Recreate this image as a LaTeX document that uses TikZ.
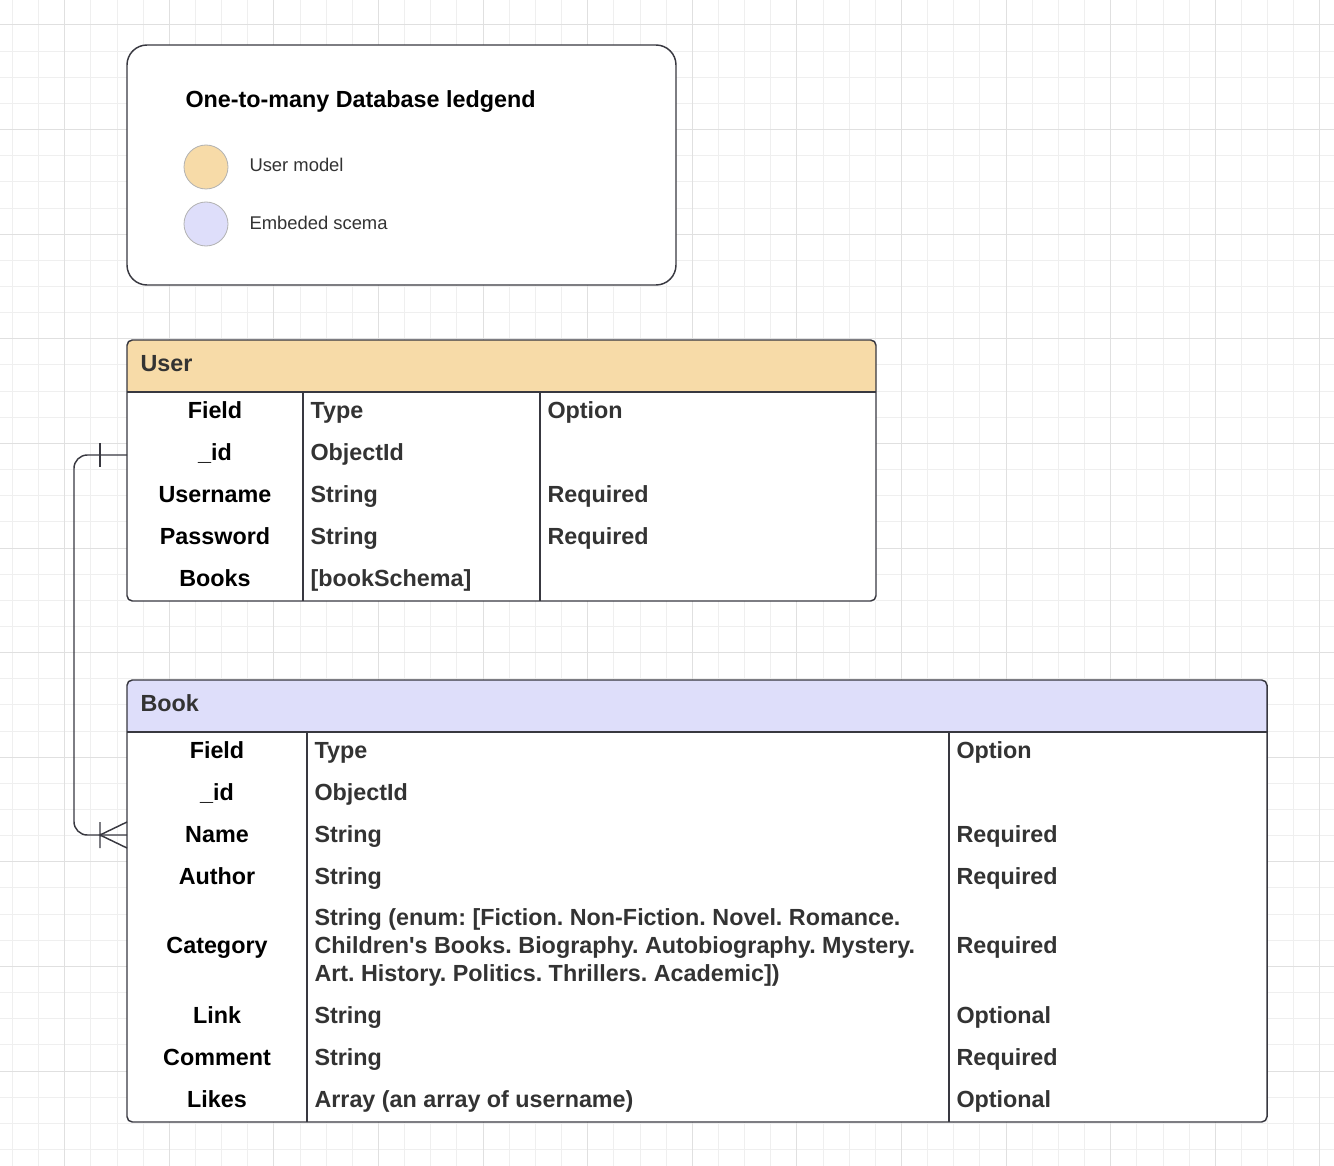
\documentclass[tikz,border=0pt]{standalone}
\usepackage{fontspec}
\setmainfont{Liberation Sans}
\frenchspacing

\definecolor{userfill}{RGB}{247,219,168}
\definecolor{bookfill}{RGB}{222,222,250}
\definecolor{inkgray}{RGB}{51,51,51}
\definecolor{linegray}{RGB}{56,56,64}
\definecolor{gridminor}{RGB}{239,239,239}
\definecolor{gridmajor}{RGB}{224,224,224}

\tikzset{every picture/.style={line width=0.75pt}}
\tikzset{
  cellhead/.style={font=\bfseries\fontsize{17.5}{21}\selectfont, text=black, anchor=base, inner sep=0pt},
  cellval/.style={font=\bfseries\fontsize{17.5}{21}\selectfont, text=inkgray, anchor=base west, inner sep=0pt},
  legendtxt/.style={font=\fontsize{13.8}{16}\selectfont, text=inkgray, anchor=base west, inner sep=0pt},
  swatch/.style={circle, draw=black!30, line width=0.6pt, minimum size=33pt, inner sep=0pt},
  boxline/.style={draw=linegray, line width=1.1pt}
}

\begin{document}
\begin{tikzpicture}[x=0.75pt,y=0.75pt,yscale=-1,xscale=1]
\useasboundingbox (0,0) rectangle (1334,1166);

%Shape: Grid [id:grid_minor]
\foreach \i in {0,...,50} {\draw [color=gridminor] ({12.4+26.15*\i},0) -- ({12.4+26.15*\i},1166);}
\foreach \j in {1,...,45} {\draw [color=gridminor] (0,{-1.15+26.15*\j}) -- (1334,{-1.15+26.15*\j});}
%Shape: Grid [id:grid_major]
\foreach \i in {0,...,12} {\draw [color=gridmajor] ({64.7+104.6*\i},0) -- ({64.7+104.6*\i},1166);}
\foreach \j in {0,...,10} {\draw [color=gridmajor] (0,{25+104.6*\j}) -- (1334,{25+104.6*\j});}

%Shape: Rounded Rect [id:legend_box]
\draw [boxline, fill=white, rounded corners=15pt] (127,45) rectangle (676,285);
% Text Node
\draw (185,107.4) node [font=\bfseries\fontsize{17.5}{21}\selectfont, anchor=base west, inner sep=0pt] (legTitle) {One-to-many Database ledgend};
% Text Node
\draw (206,167) node [swatch, fill=userfill] (swUser) {};
\draw (249,171.6) node [legendtxt] (legUser) {User model};
% Text Node
\draw (206,224) node [swatch, fill=bookfill] (swBook) {};
\draw (249,229.6) node [legendtxt] (legBook) {Embeded scema};

%Shape: Table [id:user_table]
\fill [white] (127,340) rectangle (876,601);
\fill [userfill] (127,392) [rounded corners=4pt] -- (127,340) -- (876,340) [sharp corners] -- (876,392) -- cycle;
\draw [boxline] (127,392) -- (876,392);
\draw [color=linegray, line width=0.9pt] (303,392) -- (303,601) (540,392) -- (540,601);
\draw [boxline, rounded corners=4pt] (127,340) rectangle (876,601);
% Text Node
\draw (140,371.4) node [cellval] (uHead) {User};
\draw (215,418.4) node [cellhead] (uField) {Field};
\draw (310,418.4) node [cellval] (uType) {Type};
\draw (547,418.4) node [cellval] (uOption) {Option};
\draw (215,460.4) node [cellhead] (uId) {\_id};
\draw (310,460.4) node [cellval] (uIdType) {ObjectId};
\draw (215,502.4) node [cellhead] (uName) {Username};
\draw (310,502.4) node [cellval] (uNameType) {String};
\draw (547,502.4) node [cellval] (uNameOpt) {Required};
\draw (215,544.4) node [cellhead] (uPass) {Password};
\draw (310,544.4) node [cellval] (uPassType) {String};
\draw (547,544.4) node [cellval] (uPassOpt) {Required};
\draw (215,586.4) node [cellhead] (uBooks) {Books};
\draw (310,586.4) node [cellval] (uBooksType) {[bookSchema]};

%Shape: Table [id:book_table]
\fill [white] (127,680) rectangle (1267,1122);
\fill [bookfill] (127,732) [rounded corners=4pt] -- (127,680) -- (1267,680) [sharp corners] -- (1267,732) -- cycle;
\draw [boxline] (127,732) -- (1267,732);
\draw [color=linegray, line width=0.9pt] (307,732) -- (307,1122) (949,732) -- (949,1122);
\draw [boxline, rounded corners=4pt] (127,680) rectangle (1267,1122);
% Text Node
\draw (140,711.4) node [cellval] (bHead) {Book};
\draw (217,758.4) node [cellhead] (bField) {Field};
\draw (314,758.4) node [cellval] (bType) {Type};
\draw (956,758.4) node [cellval] (bOption) {Option};
\draw (217,800.4) node [cellhead] (bId) {\_id};
\draw (314,800.4) node [cellval] (bIdType) {ObjectId};
\draw (217,842.4) node [cellhead] (bName) {Name};
\draw (314,842.4) node [cellval] (bNameType) {String};
\draw (956,842.4) node [cellval] (bNameOpt) {Required};
\draw (217,884.4) node [cellhead] (bAuthor) {Author};
\draw (314,884.4) node [cellval] (bAuthorType) {String};
\draw (956,884.4) node [cellval] (bAuthorOpt) {Required};
\draw (217,953.4) node [cellhead] (bCat) {Category};
\draw (314,947) node [cellval, anchor=west, align=left] (bCatType) {String (enum: [Fiction. Non-Fiction. Novel. Romance.\\Children\textquotesingle s Books. Biography. Autobiography. Mystery.\\Art. History. Politics. Thrillers. Academic])};
\draw (956,953.4) node [cellval] (bCatOpt) {Required};
\draw (217,1023.4) node [cellhead] (bLink) {Link};
\draw (314,1023.4) node [cellval] (bLinkType) {String};
\draw (956,1023.4) node [cellval] (bLinkOpt) {Optional};
\draw (217,1065.4) node [cellhead] (bComment) {Comment};
\draw (314,1065.4) node [cellval] (bCommentType) {String};
\draw (956,1065.4) node [cellval] (bCommentOpt) {Required};
\draw (217,1107.4) node [cellhead] (bLikes) {Likes};
\draw (314,1107.4) node [cellval] (bLikesType) {Array (an array of username)};
\draw (956,1107.4) node [cellval] (bLikesOpt) {Optional};

%Straight Lines [id:user_book_link]
\coordinate (uPort) at (127,455);
\coordinate (bPort) at (127,835);
\draw [boxline, rounded corners=10pt] (uPort) -- ++(-53,0) |- (bPort);
% one mark
\draw [boxline] (100,443) -- (100,467);
% many mark
\draw [boxline] (100,822) -- (100,848) (127,822) -- (100,835) -- (127,848);

\end{tikzpicture}
\end{document}
